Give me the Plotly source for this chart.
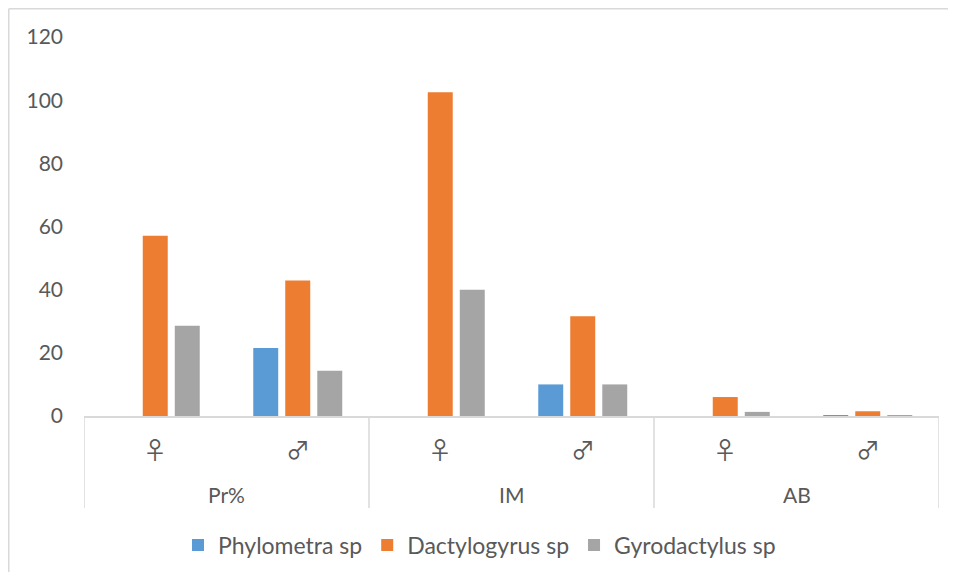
import plotly.graph_objects as go

groups = ["Pr%", "Pr%", "IM", "IM", "AB", "AB"]
sexes = ["♀", "♂", "♀", "♂", "♀", "♂"]
series_names = ["Phylometra sp", "Dactylogyrus sp", "Gyrodactylus sp"]
phylometra = [0, 21.5, 0, 10.0, 0, 0.3]
dactylogyrus = [57.1, 42.9, 102.5, 31.6, 6.0, 1.5]
gyrodactylus = [28.6, 14.3, 40.0, 10.0, 1.3, 0.2]
colors = ["#5B9BD5", "#ED7D31", "#A5A5A5"]
y_ticks = [0, 20, 40, 60, 80, 100, 120]

font_family = "Lato, 'Open Sans', sans-serif"
txt = "#595959"
grid = "#D9D9D9"

# page body has an 8px margin; figure placed at (8, 8)
W, H = 940, 564
L, R, T, B = 76, 9, 29, 156
PW, PH = W - L - R, H - T - B

xpos = list(range(len(sexes)))

fig = go.Figure()
for name, vals, col in zip(series_names, [phylometra, dactylogyrus, gyrodactylus], colors):
    fig.add_trace(go.Bar(x=xpos, y=vals, name=name, marker_color=col,
                         marker_line_width=0))

annotations = []
for i, s in enumerate(sexes):
    annotations.append(dict(x=i, y=-32 / PH, xref="x", yref="paper", text=s,
                            showarrow=False, xanchor="center", yanchor="middle",
                            font=dict(family="'Noto Sans CJK JP', 'DejaVu Sans'", size=24, color=txt)))

# group labels and dividers derived from the groups list
shapes = []
uniq = []
for g in groups:
    if g not in uniq:
        uniq.append(g)
bounds = []
for g in uniq:
    idx = [i for i, gg in enumerate(groups) if gg == g]
    lo, hi = min(idx) - 0.5, max(idx) + 0.5
    bounds += [lo, hi]
    annotations.append(dict(x=(lo + hi) / 2, y=-78 / PH, xref="x", yref="paper", text=g,
                            showarrow=False, xanchor="center", yanchor="middle",
                            font=dict(family=font_family, size=21, color=txt)))
for b in sorted(set(bounds)):
    shapes.append(dict(type="line", xref="x", yref="paper", x0=b, x1=b, y0=0, y1=-92 / PH,
                       line=dict(color=grid, width=1.5)))

# chart outer border (only left and top edges are within view)
bx = (0.75 - L) / PW
by = 1 + (T - 0.75) / PH
shapes.append(dict(type="line", xref="paper", yref="paper", x0=bx, x1=bx, y0=by, y1=-B / PH,
                   line=dict(color=grid, width=1.5), layer="below"))
shapes.append(dict(type="line", xref="paper", yref="paper", x0=bx, x1=(W - L) / PW, y0=by, y1=by,
                   line=dict(color=grid, width=1.5), layer="below"))

fig.update_layout(
    width=W, height=H,
    margin=dict(l=L, r=R, t=T, b=B, autoexpand=False),
    paper_bgcolor="white", plot_bgcolor="white",
    barmode="group", bargap=0.326, bargroupgap=0.22,
    font=dict(family=font_family, size=20, color=txt),
    showlegend=True,
    legend=dict(orientation="h", x=0.5 - 32 / PW, xanchor="center", y=-129 / PH, yanchor="middle",
                font=dict(size=23, color=txt), traceorder="normal"),
    xaxis=dict(range=[-0.5, len(sexes) - 0.5], showline=True, linecolor=grid, linewidth=1.5,
               showticklabels=False, ticks="", showgrid=False, zeroline=False),
    yaxis=dict(range=[0, 120], tickvals=y_ticks, showgrid=False, zeroline=False,
               showline=False, ticks="", ticklabelstandoff=20,
               tickfont=dict(size=21, color=txt)),
    annotations=annotations,
    shapes=shapes,
)

fig.write_html("out.html")
